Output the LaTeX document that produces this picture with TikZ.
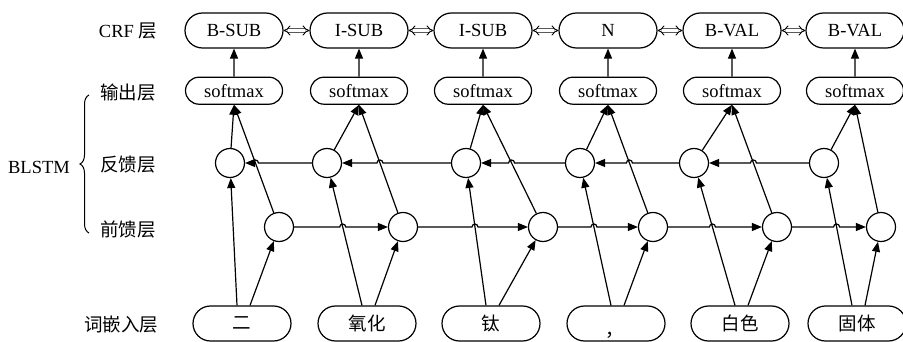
\documentclass[tikz,border=0pt]{standalone}
\usepackage{fontspec}
\setmainfont{Liberation Serif}
\newfontfamily\cjk{Noto Sans CJK SC}
\usetikzlibrary{arrows.meta,shapes.misc,calc,decorations.pathreplacing}

\begin{document}
\begin{tikzpicture}[x=1pt,y=1pt,
  font=\fontsize{18.5}{20}\selectfont,
  line width=1.2pt,
  pill/.style={draw, rounded rectangle, minimum width=98pt, minimum height=35pt, inner sep=0pt},
  smax/.style={draw, rounded rectangle, minimum width=97pt, minimum height=27pt, inner sep=0pt},
  cell/.style={draw, circle, minimum size=29pt, inner sep=0pt},
  arr/.style={-{Triangle[length=10pt,width=8pt]}},
  link/.style={double, double distance=2.6pt, line width=0.9pt, {Implies}-{Implies}}
]
\fill[white] (0,0) rectangle (903,-342);
\useasboundingbox (0,0) rectangle (903,-342);

% CRF tags
\foreach \n/\x/\t in {1/234/B-SUB,2/359/I-SUB,3/483/I-SUB,4/608/N,5/732/B-VAL,6/855/B-VAL}
  \node[pill] (c\n) at (\x,-30.5) {\t};
% softmax outputs
\foreach \n/\x in {1/234,2/359,3/483,4/608,5/732,6/855}
  \node[smax] (s\n) at (\x,-90.7) {softmax};
% backward cells
\foreach \n/\x in {1/230,2/327,3/466,4/580,5/694,6/824}
  \node[cell] (b\n) at (\x,-163) {};
% forward cells
\foreach \n/\x in {1/279,2/403,3/543,4/653,5/777,6/881}
  \node[cell] (f\n) at (\x,-227) {};
% word embeddings
\foreach \n/\x/\t in {1/242/二,2/367/氧化,3/491/钛,5/740/白色,6/857/固体}
  \node[pill] (w\n) at (\x,-323.5) {\cjk \t};
\node[pill] (w4) at (616,-323.5)
  {\cjk\makebox[0pt][l]{\hspace*{-11pt}\raisebox{-13pt}[0pt][0pt]{，}}};

% layer labels
\node (lcrf) at (128,-31) {CRF \cjk 层};
\node (lout) at (128,-93) {\cjk 输出层};
\node (lbwd) at (128,-165) {\cjk 反馈层};
\node (lfwd) at (128,-230) {\cjk 前馈层};
\node (lemb) at (121,-325) {\cjk 词嵌入层};
\node (lblstm) at (39,-167) {BLSTM};
\draw[line width=1pt, decorate, decoration={brace, amplitude=9pt}] (89,-233) -- (89,-95);

% vertical connections
\foreach \n in {1,...,6} {
  \coordinate (wl\n) at ($(w\n.north)+(-5,0)$);
  \coordinate (wr\n) at ($(w\n.north)+(8,0)$);
  \coordinate (sb\n) at (s\n.south);
  \draw[arr] (s\n) -- (c\n);
  \draw[arr] (b\n) -- (sb\n);
  \draw[arr] (f\n) -- (sb\n);
  \draw[arr] (wl\n) -- (b\n);
  \draw[arr] (wr\n) -- (f\n);
}

% CRF transitions
\foreach \i/\j in {1/2,2/3,3/4,4/5,5/6}
  \draw[link] (c\i) -- (c\j);

% forward and backward recurrences, hopping over crossing lines
\foreach \i/\j in {1/2,2/3,3/4,4/5,5/6} {
  \path let \p1=(wl\j), \p2=(b\j), \p3=(f\i) in
    coordinate (hf) at ({\x1+(\x2-\x1)*(\y3-\y1)/(\y2-\y1)}, \y3);
  \draw[arr] (f\i) -- ($(hf)+(-3,0)$) arc[start angle=180, end angle=0, radius=3] -- (f\j);
  \path let \p1=(f\i), \p2=(sb\i), \p3=(b\i) in
    coordinate (hb) at ({\x1+(\x2-\x1)*(\y3-\y1)/(\y2-\y1)}, \y3);
  \draw[arr] (b\j) -- ($(hb)+(3,0)$) arc[start angle=0, end angle=180, radius=3] -- (b\i);
}
\end{tikzpicture}
\end{document}
